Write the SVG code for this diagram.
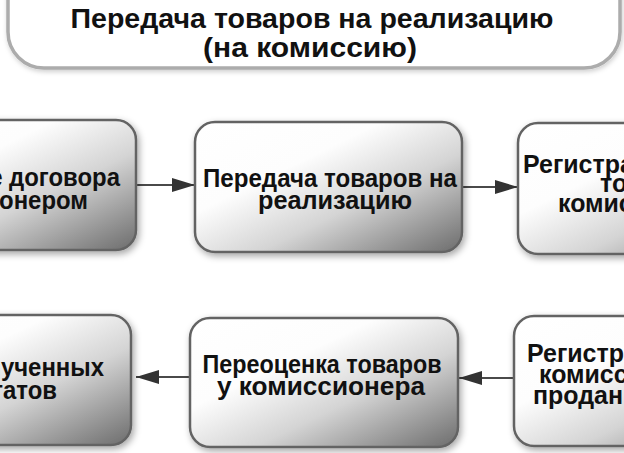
<svg xmlns="http://www.w3.org/2000/svg" width="624" height="453" viewBox="0 0 624 453">
<style>
.box{fill:url(#g);stroke:#636363;stroke-width:2.5;filter:url(#sh)}
.t{font-family:"Liberation Sans",Arial,sans-serif;font-weight:bold;font-size:26px;fill:#111}
.tt{font-family:"Liberation Sans",Arial,sans-serif;font-weight:bold;font-size:28px;fill:#111}
.c{stroke:#4a4a4a;stroke-width:2;fill:none;marker-end:url(#ah)}
</style>
<defs>
<linearGradient id="g" x1="0" y1="0" x2="1" y2="1">
<stop offset="0" stop-color="#ffffff"/>
<stop offset="0.35" stop-color="#fdfdfd"/>
<stop offset="0.62" stop-color="#d4d4d4"/>
<stop offset="1" stop-color="#6c6c6c"/>
</linearGradient>
<filter id="sh" x="-10%" y="-10%" width="125%" height="130%">
<feGaussianBlur in="SourceAlpha" stdDeviation="3.5"/>
<feOffset dx="2" dy="3" result="b"/>
<feFlood flood-color="#000" flood-opacity="0.35"/>
<feComposite in2="b" operator="in"/>
<feMerge><feMergeNode/><feMergeNode in="SourceGraphic"/></feMerge>
</filter>
<filter id="sh2" x="-5%" y="-10%" width="110%" height="130%">
<feGaussianBlur in="SourceAlpha" stdDeviation="2.5"/>
<feOffset dx="1" dy="2" result="b"/>
<feFlood flood-color="#000" flood-opacity="0.2"/>
<feComposite in2="b" operator="in"/>
<feMerge><feMergeNode/><feMergeNode in="SourceGraphic"/></feMerge>
</filter>
<marker id="ah" viewBox="0 0 23 14" refX="23" refY="7" markerWidth="23" markerHeight="14" markerUnits="userSpaceOnUse" orient="auto">
<path d="M0,0 L23,7 L0,14 z" fill="#333"/>
</marker>
</defs>
<rect width="624" height="453" fill="#fff"/>
<g id="title">
<rect x="8" y="-40" width="612" height="108" rx="36" fill="#fff" stroke="#acacac" stroke-width="3.5" filter="url(#sh2)"/>
<text class="tt" x="312" y="28" text-anchor="middle" textLength="483" lengthAdjust="spacingAndGlyphs">Передача товаров на реализацию</text>
<text class="tt" x="310" y="57" text-anchor="middle" textLength="214" lengthAdjust="spacingAndGlyphs">(на комиссию)</text>
</g>
<g id="connectors">
<path class="c" d="M137,185 L195,185"/>
<path class="c" d="M462,187 L518,187"/>
<path class="c" d="M190,377 L136,377"/>
<path class="c" d="M514,378 L459,378"/>
</g>
<g id="n1">
<rect class="box" x="-132" y="120" width="268" height="130" rx="20"/>
<text class="t" transform="translate(120,186) scale(0.92,1)" text-anchor="end">е договора</text>
<text class="t" transform="translate(88,209) scale(0.92,1)" text-anchor="end">онером</text>
</g>
<g id="n2">
<rect class="box" x="195" y="122" width="267" height="130" rx="20"/>
<text class="t" x="330" y="187" text-anchor="middle" textLength="254" lengthAdjust="spacingAndGlyphs">Передача товаров на</text>
<text class="t" x="335" y="209" text-anchor="middle" textLength="154" lengthAdjust="spacingAndGlyphs">реализацию</text>
</g>
<g id="n3">
<rect class="box" x="518" y="123" width="267" height="131" rx="20"/>
<text class="t" transform="translate(523,173) scale(0.96,1)">Регистра</text>
<text class="t" transform="translate(600,192) scale(0.96,1)">то</text>
<text class="t" transform="translate(558,212) scale(0.96,1)">комис</text>
</g>
<g id="n4">
<rect class="box" x="-137" y="315" width="268" height="130" rx="20"/>
<text class="t" transform="translate(104,376) scale(0.92,1)" text-anchor="end">лученных</text>
<text class="t" transform="translate(57,399) scale(0.92,1)" text-anchor="end">татов</text>
</g>
<g id="n5">
<rect class="box" x="190" y="318" width="268" height="129" rx="20"/>
<text class="t" x="322" y="373" text-anchor="middle" textLength="239" lengthAdjust="spacingAndGlyphs">Переоценка товаров</text>
<text class="t" x="321" y="395" text-anchor="middle" textLength="208" lengthAdjust="spacingAndGlyphs">у комиссионера</text>
</g>
<g id="n6">
<rect class="box" x="514" y="316" width="268" height="130" rx="20"/>
<text class="t" transform="translate(527,362) scale(0.96,1)">Регистра</text>
<text class="t" transform="translate(539,383) scale(0.96,1)">комисс</text>
<text class="t" transform="translate(533,404) scale(0.96,1)">продан</text>
</g>
</svg>
